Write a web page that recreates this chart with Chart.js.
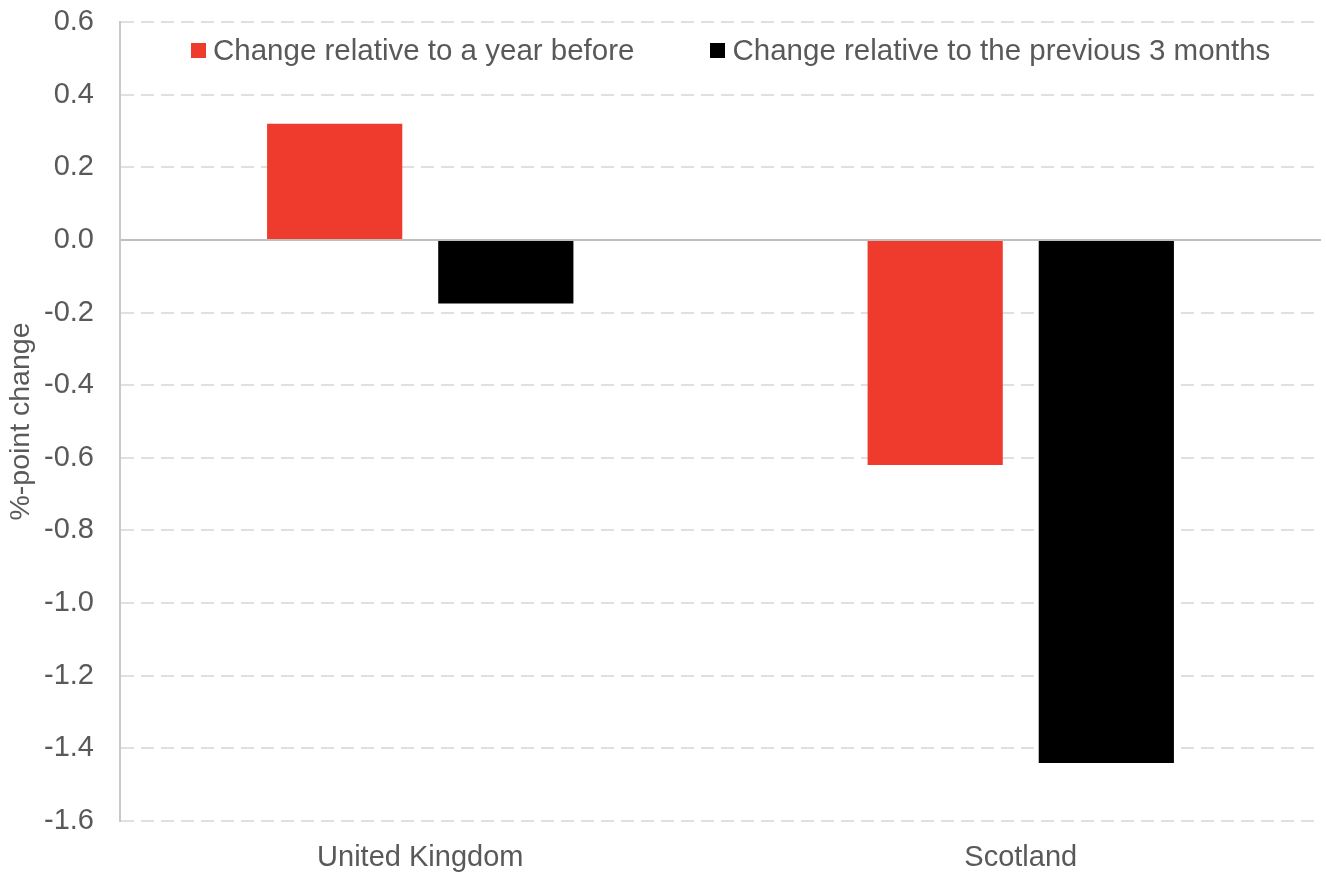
<!DOCTYPE html>
<html>
<head>
<meta charset="utf-8">
<script src="https://cdn.jsdelivr.net/npm/chart.js@4"></script>
<style>
  body { margin: 0; background: #fff; }
  #wrap { position: relative; width: 1326px; height: 872px; }
  #legend { position: absolute; left: 191px; top: 33px; display: flex; align-items: center;
            font-family: "Liberation Sans", Arial, sans-serif; font-size: 29.5px; line-height: 34px; color: #595959; }
  #legend .item { display: flex; align-items: center; }
  #legend .box { width: 15px; height: 15px; margin-right: 7px; }
</style>
</head>
<body>
<div id="wrap">
  <canvas id="bar-chart"></canvas>
  <div id="legend"></div>
</div>
<script>
// datos
const regiones = ["United Kingdom", "Scotland"];
const cambioAnual = [0.32, -0.62];
const cambioTrimestral = [-0.175, -1.44];
const nombresSeries = ["Change relative to a year before", "Change relative to the previous 3 months"];
const colores = ["#ef3b2d", "#000000"];
const escalaY = { min: -1.6, max: 0.6, step: 0.2 };

const fuente = "'Liberation Sans', Arial, sans-serif";

new Chart(document.getElementById("bar-chart"), {
    type: 'bar',
    data: {
      labels: regiones,
      datasets: [
        {
          label: nombresSeries[0],
          backgroundColor: colores[0],
          borderWidth: 0,
          data: cambioAnual
        },
        {
          label: nombresSeries[1],
          backgroundColor: colores[1],
          borderWidth: 0,
          data: cambioTrimestral
        }
      ]
    },
    options: {
      responsive: true,
      maintainAspectRatio: false,
      animation: false,
      categoryPercentage: 0.57,
      barPercentage: 0.79,
      layout: { padding: { top: 22, right: 5, left: 0, bottom: 0 } },
      plugins: {
        legend: { display: false },
        tooltip: { enabled: false }
      },
      scales: {
        x: {
          grid: { display: false, drawTicks: false },
          border: { display: false },
          ticks: { color: "#595959", font: { family: fuente, size: 29 }, padding: 20 },
          afterFit: function (s) { s.height = 51; }
        },
        y: {
          min: escalaY.min,
          max: escalaY.max,
          ticks: {
            stepSize: escalaY.step,
            color: "#595959",
            font: { family: fuente, size: 29 },
            padding: 26,
            callback: function (v) { return Math.abs(v) < 1e-9 ? "0.0" : v.toFixed(1); }
          },
          grid: {
            drawTicks: false,
            lineWidth: 2,
            color: function (c) { return c.tick && Math.abs(c.tick.value) < 1e-9 ? "#bfbfbf" : "#e0e0e0"; }
          },
          border: {
            color: "#c8c8c8",
            width: 2,
            dash: function (c) { return c.tick && Math.abs(c.tick.value) < 1e-9 ? [] : [13, 7]; }
          },
          title: {
            display: true,
            text: "%-point change",
            color: "#595959",
            font: { family: fuente, size: 28.5 },
            padding: { top: 4, bottom: 0 }
          },
          afterFit: function (s) {
            s.width = 120;
            s.paddingTop = 0;
            s.paddingBottom = 0;
          }
        }
      }
    }
});

// leyenda en html dentro del area
const leyenda = document.getElementById("legend");
nombresSeries.forEach(function (n, i) {
  const it = document.createElement("div");
  it.className = "item";
  if (i > 0) it.style.marginLeft = "76px";
  const b = document.createElement("span");
  b.className = "box";
  b.style.background = colores[i];
  const t = document.createElement("span");
  t.textContent = n;
  it.appendChild(b);
  it.appendChild(t);
  leyenda.appendChild(it);
});
</script>
</body>
</html>
